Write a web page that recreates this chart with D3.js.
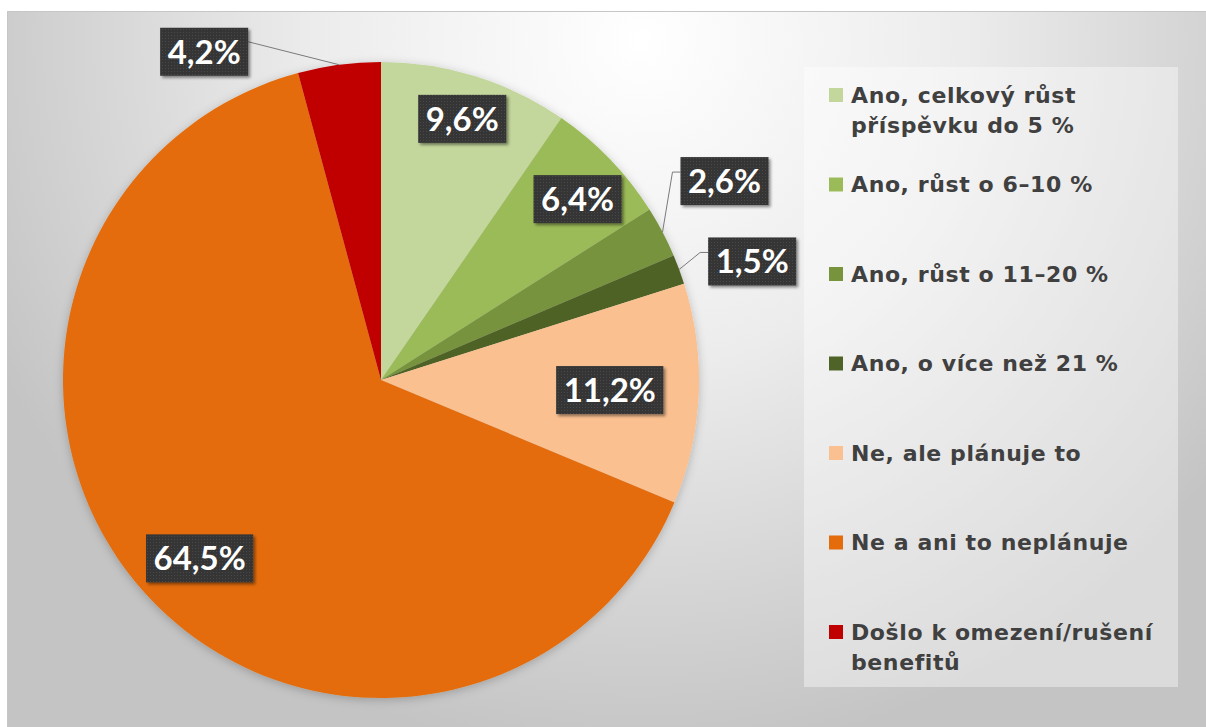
<!DOCTYPE html>
<html><head><meta charset="utf-8">
<script src="https://cdn.jsdelivr.net/npm/d3@7"></script>
<style>html,body{margin:0;padding:0;background:#fff;overflow:hidden} svg{display:block}</style>
</head><body><svg id="c" width="1206" height="727"></svg>
<script>
// ---- data ----
const categories = [
  "Ano, celkový růst příspěvku do 5 %",
  "Ano, růst o 6–10 %",
  "Ano, růst o 11–20 %",
  "Ano, o více než 21 %",
  "Ne, ale plánuje to",
  "Ne a ani to neplánuje",
  "Došlo k omezení/rušení benefitů"
];
const legendLines = [
  ["Ano, celkový růst", "příspěvku do 5 %"],
  ["Ano, růst o 6–10 %"],
  ["Ano, růst o 11–20 %"],
  ["Ano, o více než 21 %"],
  ["Ne, ale plánuje to"],
  ["Ne a ani to neplánuje"],
  ["Došlo k omezení/rušení", "benefitů"]
];
const values = [9.6, 6.4, 2.6, 1.5, 11.2, 64.5, 4.2];
const valueLabels = ["9,6%", "6,4%", "2,6%", "1,5%", "11,2%", "64,5%", "4,2%"];
const colors = ["#c3d69b", "#9bbb59", "#77933c", "#4f6228", "#fac090", "#e46c0a", "#c00000"];

// label placement (style/layout): inside = radius fraction + angle tweak; outside = offset of box centre from rim point
const labelPlacement = [
  {type: "in", rf: 0.86, da: 0},
  {type: "in", rf: 0.84, da: 1.3},
  {type: "out", dx: 62, dy: -51},
  {type: "out", dx: 73, dy: -8},
  {type: "in", rf: 0.72, da: 0},
  {type: "in", rf: 0.80, da: -3.3},
  {type: "out", dx: -135, dy: -13}
];

// ---- layout ----
const W = 1206, H = 727;
const cx = 381, cy = 380, R = 318;
const svg = d3.select("#c");
const defs = svg.append("defs");

const bg = defs.append("radialGradient").attr("id", "bg")
  .attr("gradientUnits", "userSpaceOnUse")
  .attr("cx", 640).attr("cy", 40).attr("r", 720);
bg.append("stop").attr("offset", 0).attr("stop-color", "#ffffff");
bg.append("stop").attr("offset", 0.45).attr("stop-color", "#ececec");
bg.append("stop").attr("offset", 1).attr("stop-color", "#c4c4c4");

const sh = defs.append("filter").attr("id", "boxsh").attr("x", "-20%").attr("y", "-20%").attr("width", "150%").attr("height", "160%");
sh.append("feDropShadow").attr("dx", 2).attr("dy", 2).attr("stdDeviation", 1.6).attr("flood-color", "#000").attr("flood-opacity", 0.45);

const psh = defs.append("filter").attr("id", "piesh").attr("x", "-10%").attr("y", "-10%").attr("width", "120%").attr("height", "120%");
psh.append("feDropShadow").attr("dx", 0).attr("dy", 2).attr("stdDeviation", 5).attr("flood-color", "#000").attr("flood-opacity", 0.22);

const pat = defs.append("pattern").attr("id", "dots").attr("width", 3).attr("height", 3).attr("patternUnits", "userSpaceOnUse");
pat.append("rect").attr("width", 3).attr("height", 3).attr("fill", "#363636");
pat.append("rect").attr("width", 1).attr("height", 1).attr("fill", "#4a4a4a");

// slide background
svg.append("rect").attr("x", 7).attr("y", 11).attr("width", W - 7).attr("height", H - 11).attr("fill", "url(#bg)");
svg.append("line").attr("x1", 7).attr("x2", W).attr("y1", 11.5).attr("y2", 11.5).attr("stroke", "#c6c6c6");
svg.append("line").attr("x1", 7.5).attr("x2", 7.5).attr("y1", 11).attr("y2", H).attr("stroke", "#c6c6c6");

// legend panel
svg.append("rect").attr("x", 804).attr("y", 67).attr("width", 374).attr("height", 620)
  .attr("fill", "#ffffff").attr("fill-opacity", 0.4);

// pie
const pie = d3.pie().sort(null).value(d => d)(values);
const arc = d3.arc().innerRadius(0).outerRadius(R);
const g = svg.append("g").attr("transform", `translate(${cx},${cy})`);
g.append("g").attr("filter", "url(#piesh)")
  .selectAll("path").data(pie).join("path")
  .attr("d", arc).attr("fill", (d, i) => colors[i]);

const polar = (a, r) => [r * Math.sin(a), -r * Math.cos(a)];

// labels
const lg = g.append("g");
pie.forEach((d, i) => {
  const p = labelPlacement[i];
  const mid = (d.startAngle + d.endAngle) / 2;
  let bx, by;
  if (p.type === "in") {
    [bx, by] = polar(mid + p.da * Math.PI / 180, R * p.rf);
  } else {
    const [ex, ey] = polar(mid, R);
    bx = ex + p.dx; by = ey + p.dy;
  }
  const grp = lg.append("g");
  const t = grp.append("text").attr("x", bx).attr("y", by).attr("dy", "0.36em")
    .attr("text-anchor", "middle")
    .attr("font-family", "Lato, 'DejaVu Sans', sans-serif").attr("font-weight", 700)
    .attr("font-size", 33).attr("fill", "#ffffff").text(valueLabels[i]);
  const tw = t.node().getComputedTextLength();
  const bw = tw + 15, bh = 48;
  grp.insert("rect", "text").attr("x", bx - bw / 2).attr("y", by - bh / 2)
    .attr("width", bw).attr("height", bh).attr("fill", "url(#dots)").attr("filter", "url(#boxsh)");
  if (p.type === "out") {
    const [ex, ey] = polar(mid, R);
    let pts;
    if (bx > ex) {
      const sx = bx - bw / 2, sy = by - 9;
      pts = [[sx, sy], [sx - 8, sy], [ex, ey]];
    } else {
      const sx = bx + bw / 2, sy = by - 10;
      pts = [[sx, sy], [ex, ey]];
    }
    lg.insert("path", ":first-child").attr("d", d3.line()(pts))
      .attr("fill", "none").attr("stroke", "#7a7a7a").attr("stroke-width", 1);
  }
});

// legend
const leg = svg.append("g");
const legY = d3.scalePoint().domain(d3.range(categories.length)).range([95, 632]);
legendLines.forEach((lines, i) => {
  const y = legY(i);
  leg.append("rect").attr("x", 829).attr("y", y - 7).attr("width", 14).attr("height", 14).attr("fill", colors[i]);
  lines.forEach((ln, j) => {
    leg.append("text").attr("x", 851).attr("y", y + j * 30).attr("dy", "0.36em")
      .attr("font-family", "'DejaVu Sans', sans-serif").attr("font-weight", 700)
      .attr("font-size", 22).attr("letter-spacing", 0.6).attr("fill", "#404040").text(ln);
  });
});
</script>
</body></html>
